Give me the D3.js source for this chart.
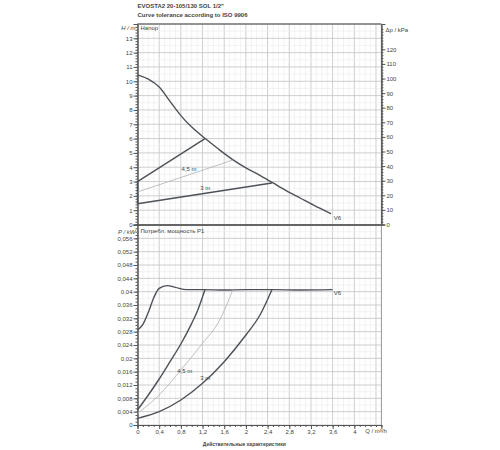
<!DOCTYPE html>
<html>
<head>
<meta charset="utf-8">
<script src="https://cdn.jsdelivr.net/npm/d3@7"></script>
<style>
  body { margin: 0; background: #fff; }
  svg { display: block; font-family: "Liberation Sans", Arial, sans-serif; }
</style>
</head>
<body>
<div id="chart"></div>
<script>
// pump curves, Q in m3/h
var flowTicks = [0, 0.4, 0.8, 1.2, 1.6, 2, 2.4, 2.8, 3.2, 3.6, 4];
var headTicks = [0, 1, 2, 3, 4, 5, 6, 7, 8, 9, 10, 11, 12, 13];
var kpaTicks = [0, 10, 20, 30, 40, 50, 60, 70, 80, 90, 100, 110, 120];
var powerTicks = [0, 0.004, 0.008, 0.012, 0.016, 0.02, 0.024, 0.028, 0.032, 0.036, 0.04, 0.044, 0.048, 0.052, 0.056];

// max speed head curve (V6)
var maxHeadQ = [0, 0.2, 0.4, 0.6, 0.8, 1.0, 1.25, 1.5, 1.75, 2.0, 2.25, 2.5, 2.75, 3.0, 3.25, 3.57];
var maxHeadH = [10.45, 10.15, 9.6, 8.6, 7.6, 6.8, 6.0, 5.25, 4.55, 3.95, 3.45, 2.9, 2.35, 1.85, 1.35, 0.75];

// proportional pressure lines
var pp6Q = [0, 1.245], pp6H = [3.0, 6.0];
var pp45Q = [0, 1.76], pp45H = [2.27, 4.5];
var pp3Q = [0, 2.48], pp3H = [1.45, 2.9];

// power input P1 in kW
var maxPowerQ = [0, 0.1, 0.2, 0.3, 0.4, 0.55, 0.7, 0.9, 1.2, 1.6, 2.0, 2.5, 3.0, 3.6];
var maxPowerP = [0.0285, 0.0302, 0.0338, 0.0382, 0.041, 0.0418, 0.0413, 0.0406, 0.0406, 0.0405, 0.0406, 0.0406, 0.0405, 0.0406];
var power6Q = [0, 0.2, 0.4, 0.6, 0.8, 1.0, 1.1, 1.245];
var power6P = [0.0045, 0.009, 0.0138, 0.019, 0.0243, 0.0305, 0.034, 0.0406];
var power45Q = [0, 0.4, 0.8, 1.2, 1.5, 1.76];
var power45P = [0.0035, 0.009, 0.0165, 0.0245, 0.031, 0.0406];
var power3Q = [0, 0.4, 0.8, 1.2, 1.6, 2.0, 2.26, 2.48];
var power3P = [0.002, 0.004, 0.0075, 0.0125, 0.019, 0.027, 0.033, 0.0406];

var width = 500, height = 450;
var left = 137.5, right = 381.4;

var svg = d3.select('#chart').append('svg').attr('width', width).attr('height', height);

var x = d3.scaleLinear().domain([0, 4.5]).range([left, right]);
var yH = d3.scaleLinear().domain([0, 14]).range([224.5, 24]);
var yKpa = d3.scaleLinear().domain([0, 14 * 9.81]).range([224.5, 24]);
var yP = d3.scaleLinear().domain([0, 0.06]).range([425, 225]);

function comma(d) { return String(+d.toFixed(3)).replace('.', ','); }
function zip(a, b) { return a.map(function (v, i) { return [v, b[i]]; }); }

// grids
function grid(yScale, yMinor, yMajor) {
  var g = svg.append('g');
  var xr = d3.range(0, 4.501, 0.1);
  g.selectAll('.vx').data(xr).enter().append('line')
    .attr('x1', function (d) { return x(d); }).attr('x2', function (d) { return x(d); })
    .attr('y1', yScale.range()[0]).attr('y2', yScale.range()[1])
    .attr('stroke', function (d, i) { return i % 4 == 0 ? '#c8c8c8' : '#ebebeb'; })
    .attr('stroke-width', function (d, i) { return i % 4 == 0 ? 0.9 : 0.6; });
  var dom = yScale.domain();
  var yr = d3.range(dom[0], dom[1] + yMinor / 2, yMinor);
  g.selectAll('.hy').data(yr).enter().append('line')
    .attr('x1', left).attr('x2', right)
    .attr('y1', function (d) { return yScale(d); }).attr('y2', function (d) { return yScale(d); })
    .attr('stroke', function (d, i) { return i % Math.round(yMajor / yMinor) == 0 ? '#c8c8c8' : '#ebebeb'; })
    .attr('stroke-width', function (d, i) { return i % Math.round(yMajor / yMinor) == 0 ? 0.9 : 0.6; });
}
grid(yH, 0.5, 1);
grid(yP, 0.002, 0.004);

// frame
svg.append('line').attr('x1', left).attr('x2', right).attr('y1', 24).attr('y2', 24).attr('stroke', '#777').attr('stroke-width', 1.5);
svg.append('line').attr('x1', left).attr('x2', right).attr('y1', 225).attr('y2', 225).attr('stroke', '#666').attr('stroke-width', 1.8);
svg.append('line').attr('x1', right).attr('x2', right).attr('y1', 24).attr('y2', 425).attr('stroke', '#999').attr('stroke-width', 1);

// axes
var tickFont = '6px';
function styleAxis(g) {
  g.selectAll('path').attr('stroke', '#555');
  g.selectAll('line').attr('stroke', '#555');
  g.selectAll('text').attr('fill', '#444').style('font-size', tickFont);
}

var axH = svg.append('g').attr('transform', 'translate(' + left + ',0)')
  .call(d3.axisLeft(yH).tickValues(headTicks).tickSize(4).tickPadding(1).tickFormat(comma));
svg.append('g').attr('transform', 'translate(' + left + ',0)')
  .call(d3.axisLeft(yH).tickValues(d3.range(0, 14.01, 0.2)).tickSize(2).tickFormat(''))
  .call(styleAxis);
styleAxis(axH);

var axK = svg.append('g').attr('transform', 'translate(' + right + ',0)')
  .call(d3.axisRight(yKpa).tickValues(kpaTicks).tickSize(4).tickPadding(1));
svg.append('g').attr('transform', 'translate(' + right + ',0)')
  .call(d3.axisRight(yKpa).tickValues(d3.range(0, 136, 2)).tickSize(2).tickFormat(''))
  .call(styleAxis);
styleAxis(axK);

var axP = svg.append('g').attr('transform', 'translate(' + left + ',0)')
  .call(d3.axisLeft(yP).tickValues(powerTicks).tickSize(4).tickPadding(1).tickFormat(comma));
svg.append('g').attr('transform', 'translate(' + left + ',0)')
  .call(d3.axisLeft(yP).tickValues(d3.range(0, 0.0601, 0.001)).tickSize(2).tickFormat(''))
  .call(styleAxis);
styleAxis(axP);

var axQ = svg.append('g').attr('transform', 'translate(0,425)')
  .call(d3.axisBottom(x).tickValues(flowTicks).tickSize(4).tickPadding(1).tickFormat(comma));
svg.append('g').attr('transform', 'translate(0,425)')
  .call(d3.axisBottom(x).tickValues(d3.range(0, 4.501, 0.1)).tickSize(2).tickFormat(''))
  .call(styleAxis);
styleAxis(axQ);

// unit labels
function label(tx, ty, s, anchor, opts) {
  var t = svg.append('text').attr('x', tx).attr('y', ty).text(s)
    .attr('text-anchor', anchor || 'start').attr('fill', '#444').style('font-size', tickFont);
  if (opts && opts.bold) t.style('font-weight', 'bold');
  if (opts && opts.size) t.style('font-size', opts.size);
  return t;
}
label(left - 2, yH(13.55), 'H / m', 'end').style('font-style', 'italic');
label(right + 4, yKpa(133) + 2, 'Δp / kPa');
label(left - 2, 234, 'P / kW', 'end').style('font-style', 'italic');
label(x(4.4), 433, 'Q / m³/h', 'middle');
label(x(1.97), 446, 'Действительные характеристики', 'middle', { bold: true, size: '5px' });
label(left + 3, 30, 'Напор');
label(left + 3, 233, 'Потребл. мощность P1');
label(left, 8, 'EVOSTA2 20-105/130 SOL 1/2"', 'start', { bold: true });
label(left, 17, 'Curve tolerance according to ISO 9906', 'start', { bold: true });

// curves
var smooth = d3.line().x(function (d) { return x(d[0]); }).curve(d3.curveMonotoneX);
var dark = '#4d5258';

function draw(data, yScale, color, w) {
  svg.append('path').datum(data)
    .attr('d', smooth.y(function (d) { return yScale(d[1]); }))
    .attr('fill', 'none').attr('stroke', color).attr('stroke-width', w);
}

draw(zip(maxHeadQ, maxHeadH), yH, dark, 1.4);
draw(zip(pp6Q, pp6H), yH, dark, 1.4);
draw(zip(pp45Q, pp45H), yH, '#b0b0b0', 0.8);
draw(zip(pp3Q, pp3H), yH, dark, 1.4);
// vertical bit at zero flow
draw([[0, pp3H[0]], [0, pp6H[0]]], yH, dark, 1.4);

draw(zip(maxPowerQ, maxPowerP), yP, dark, 1.4);
draw(zip(power6Q, power6P), yP, dark, 1.4);
draw(zip(power45Q, power45P), yP, '#b0b0b0', 0.8);
draw(zip(power3Q, power3P), yP, dark, 1.4);

// curve labels
label(x(0.95), yH(3.75), '4,5 m', 'middle');
label(x(1.25), yH(2.42), '3 m', 'middle');
label(x(3.62), yH(0.3), 'V6');
label(x(0.87), yP(0.0155), '4,5 m', 'middle');
label(x(1.25), yP(0.0135), '3 m', 'middle');
label(x(3.62), yP(0.039), 'V6');
</script>
</body>
</html>
